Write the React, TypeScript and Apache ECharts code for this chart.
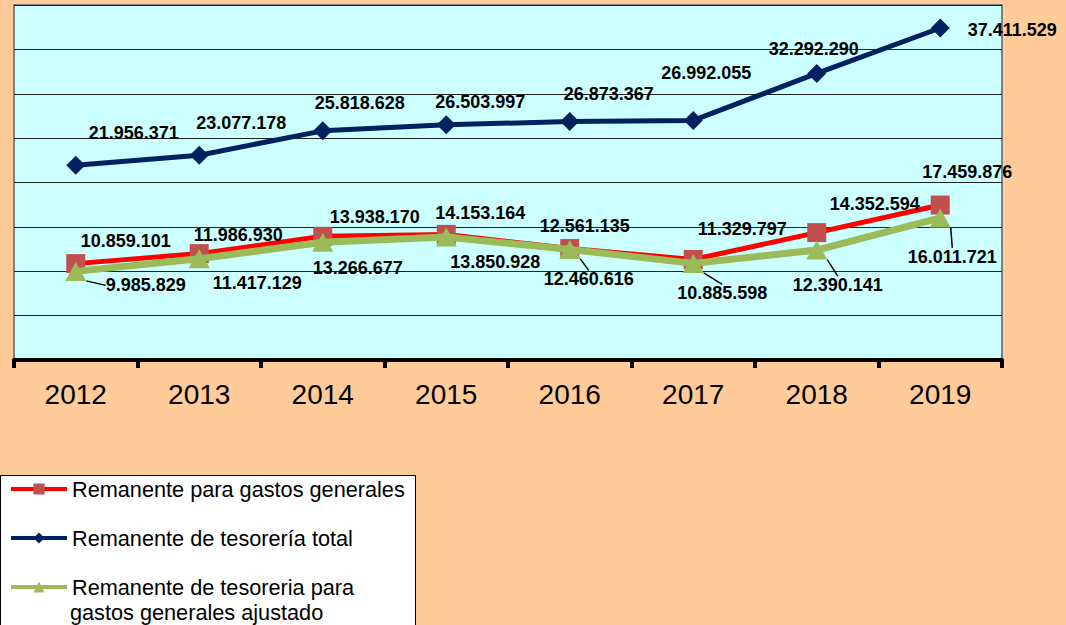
import React, { useEffect, useRef } from "react";
import * as echarts from "echarts";

const years = ["2012", "2013", "2014", "2015", "2016", "2017", "2018", "2019"];
const redName = "Remanente para gastos generales";
const blueName = "Remanente de tesorería total";
const greenName = "Remanente de tesoreria para gastos generales ajustado";

const redValues = [10859101, 11986930, 13938170, 14153164, 12561135, 11329797, 14352594, 17459876];
const blueValues = [21956371, 23077178, 25818628, 26503997, 26873367, 26992055, 32292290, 37411529];
const greenValues = [9985829, 11417129, 13266677, 13850928, 12460616, 10885598, 12390141, 16011721];

// label placement (dx, dy from each point) — layout only
const redOffsets = [[50, -23], [39, -19], [52, -19], [34, -21], [15, -23], [49, -30], [58, -29], [27, -33]];
const blueOffsets = [[58, -32], [42, -32], [37, -28], [34, -23], [39, -27], [13, -47], [-3, -24], [72, 2]];
const greenOffsets = [[70, 14], [58, 24], [35, 26], [49, 25], [19, 30], [29, 30], [21, 35], [12, 39]];
const greenLeaders = [true, false, false, false, true, true, true, true];

const FONT = "'Liberation Sans', Arial, Helvetica, sans-serif";

const fmt = (v: number) => String(v).replace(/\B(?=(\d{3})+(?!\d))/g, ".");

export default function App() {
  const ref = useRef<HTMLDivElement>(null);
  useEffect(() => {
    if (!ref.current) return;
    const chart = echarts.init(ref.current, undefined, { renderer: "svg" });
    const labelBase = {
      show: true,
      position: "inside",
      color: "#000",
      fontFamily: FONT,
      fontWeight: "bold",
      fontSize: 18,
      formatter: (p: any) => fmt(p.value),
    };
    const layoutFrom = (offs: number[][]) => (params: any) => ({
      dx: offs[params.dataIndex][0],
      dy: offs[params.dataIndex][1],
    });
    chart.setOption({
      animation: false,
      backgroundColor: "#FFCC99",
      grid: {
        left: 14,
        right: 64,
        top: 5,
        bottom: 265,
        show: true,
        backgroundColor: "#CCFFFF",
        borderColor: "#808080",
        borderWidth: 2,
      },
      xAxis: {
        type: "category",
        data: years,
        boundaryGap: true,
        axisLine: { lineStyle: { color: "#000", width: 4 } },
        axisTick: { show: true, length: 8, lineStyle: { color: "#000", width: 4 } },
        axisLabel: { color: "#000", fontFamily: FONT, fontSize: 28, margin: 20 },
        splitLine: { show: false },
      },
      yAxis: {
        type: "value",
        min: 0,
        max: 40000000,
        interval: 5000000,
        axisLine: { show: false },
        axisTick: { show: false },
        axisLabel: { show: false },
        splitLine: { show: true, lineStyle: { color: "#222", width: 1 } },
      },
      legend: {
        orient: "vertical",
        left: 0,
        top: 475,
        padding: [2, 10, 2, 9],
        itemGap: 25,
        itemWidth: 56,
        itemHeight: 14,
        selectedMode: false,
        data: [redName, blueName, greenName],
        formatter: (name: string) => (name === greenName ? "Remanente de tesoreria para" : name),
        textStyle: { color: "#000", fontFamily: FONT, fontSize: 21.7, lineHeight: 24 },
        lineStyle: { width: 4 },
        z: 10,
      },
      graphic: [
        {
          type: "rect",
          z: 1,
          shape: { x: 0.5, y: 475.5, width: 415, height: 200 },
          style: { fill: "#FFFFFF", stroke: "#000", lineWidth: 1 },
        },
        {
          type: "text",
          z: 11,
          x: 70,
          y: 612,
          style: {
            text: "gastos generales ajustado",
            fill: "#000",
            font: `21.7px ${FONT}`,
            verticalAlign: "middle",
            align: "left",
          },
        },
      ],
      series: [
        {
          name: redName,
          type: "line",
          data: redValues,
          symbol: "rect",
          symbolSize: 19,
          lineStyle: { color: "#FF0000", width: 5 },
          itemStyle: { color: "#C0504D" },
          label: labelBase,
          labelLayout: layoutFrom(redOffsets),
          z: 2,
        },
        {
          name: greenName,
          type: "line",
          data: greenValues.map((v, i) => ({ value: v, labelLine: { show: greenLeaders[i] } })),
          symbol: "triangle",
          symbolSize: [21, 19],
          lineStyle: { color: "#9BBB59", width: 7 },
          itemStyle: { color: "#9BBB59" },
          label: labelBase,
          labelLayout: layoutFrom(greenOffsets),
          labelLine: { show: false, lineStyle: { color: "#000", width: 1.5 } },
          z: 3,
        },
        {
          name: blueName,
          type: "line",
          data: blueValues,
          symbol: "diamond",
          symbolSize: 19,
          lineStyle: { color: "#002060", width: 5 },
          itemStyle: { color: "#002060" },
          label: labelBase,
          labelLayout: layoutFrom(blueOffsets),
          z: 4,
        },
      ],
    });
    return () => chart.dispose();
  }, []);
  return (
    <div
      ref={ref}
      style={{ position: "absolute", left: 0, top: 0, width: 1066, height: 625 }}
    />
  );
}
